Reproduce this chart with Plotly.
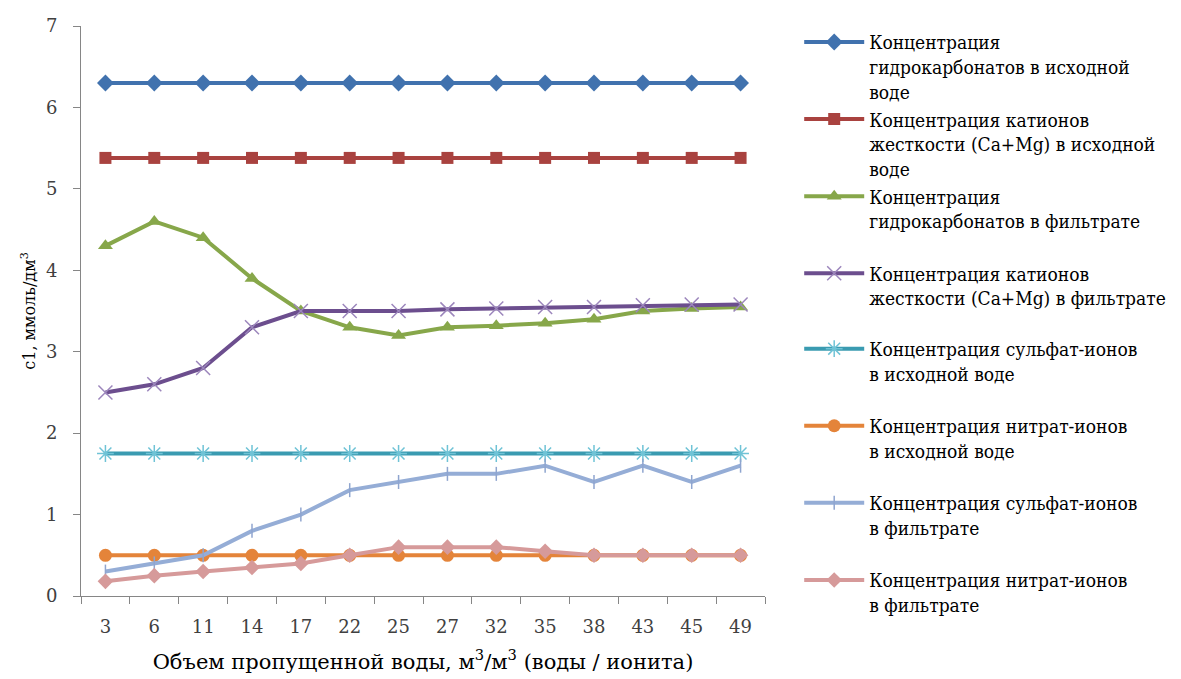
import plotly.graph_objects as go

# Volume of water passed, m3/m3 (category labels on the x axis)
volumes = ["3", "6", "11", "14", "17", "22", "25", "27", "32", "35", "38", "43", "45", "49"]

# Concentrations, mmol/dm3
hco3_source = [6.3] * 14
hardness_source = [5.38] * 14
hco3_filtrate = [4.3, 4.6, 4.4, 3.9, 3.5, 3.3, 3.2, 3.3, 3.32, 3.35, 3.4, 3.5, 3.53, 3.55]
hardness_filtrate = [2.5, 2.6, 2.8, 3.3, 3.5, 3.5, 3.5, 3.52, 3.53, 3.55, 3.55, 3.57, 3.58, 3.58]
so4_source = [1.75] * 14
no3_source = [0.5] * 14
so4_filtrate = [0.3, 0.4, 0.5, 0.8, 1.0, 1.3, 1.4, 1.5, 1.5, 1.6, 1.4, 1.6, 1.4, 1.6]
no3_filtrate = [0.18, 0.25, 0.3, 0.35, 0.4, 0.5, 0.6, 0.6, 0.6, 0.55, 0.5, 0.5, 0.5, 0.5]

SERIF = "DejaVu Serif, serif"
SERIF_NARROW = "DejaVu Serif Condensed, DejaVu Serif, serif"
PAD = "<br> "
series = [
    ("Концентрация<br>гидрокарбонатов в исходной<br>воде", hco3_source,
     "#4172AE", dict(symbol="diamond", size=13, color="#4172AE")),
    ("Концентрация катионов<br>жесткости (Ca+Mg) в исходной<br>воде", hardness_source,
     "#A9423F", dict(symbol="square", size=12, color="#A9423F")),
    ("Концентрация<br>гидрокарбонатов в фильтрате" + PAD, hco3_filtrate,
     "#87A74A", dict(symbol="triangle-up", size=13, color="#87A74A")),
    ("Концентрация катионов<br>жесткости (Ca+Mg) в фильтрате" + PAD, hardness_filtrate,
     "#6C4E8E", dict(symbol="x-thin", size=14, color="#9C86BC",
                     line=dict(width=1.5, color="#9C86BC"))),
    ("Концентрация сульфат-ионов<br>в исходной воде" + PAD, so4_source,
     "#3A9BB1", dict(symbol="asterisk", size=14, color="#6FC3D6",
                     line=dict(width=1.5, color="#6FC3D6"))),
    ("Концентрация нитрат-ионов<br>в исходной воде" + PAD, no3_source,
     "#E4843A", dict(symbol="circle", size=13, color="#E4843A")),
    ("Концентрация сульфат-ионов<br>в фильтрате" + PAD, so4_filtrate,
     "#95ADD6", dict(symbol="line-ns", size=10, color="#8FA5CF",
                     line=dict(width=1.5, color="#8FA5CF"))),
    ("Концентрация нитрат-ионов<br>в фильтрате" + PAD, no3_filtrate,
     "#D69A9A", dict(symbol="diamond", size=12, color="#D69A9A")),
]

fig = go.Figure()
for i, (name, values, color, marker) in enumerate(series):
    fig.add_trace(go.Scatter(
        x=volumes, y=values, name=name, mode="lines+markers",
        line=dict(color=color, width=4), marker=marker,
        legendgroup=f"g{i}", legend="legend" if i < 4 else "legend2",
    ))

axis_font = dict(family=SERIF, size=18, color="#404040")
legend_style = dict(
    xanchor="left", yanchor="top", valign="top", itemwidth=60,
    tracegroupgap=0, bgcolor="rgba(0,0,0,0)",
    font=dict(family=SERIF_NARROW, size=19, color="#000000"),
)

fig.update_layout(
    width=1181, height=679,
    margin=dict(l=81, r=416, t=26, b=83, autoexpand=False),
    paper_bgcolor="white", plot_bgcolor="white",
    font=dict(family=SERIF, color="#000000"),
    showlegend=True,
    legend=dict(x=1.05, y=1.005, **legend_style),
    legend2=dict(x=1.05, y=0.467, **legend_style),
    xaxis=dict(
        type="category", range=[-0.5, 13.5], tickson="boundaries",
        ticks="outside", ticklen=7, ticklabelstandoff=14,
        tickcolor="#868686", showline=True, linecolor="#868686", linewidth=1,
        showgrid=False, tickfont=axis_font,
        title=dict(text="Объем пропущенной воды, м<sup>3</sup>/м<sup>3</sup> (воды / ионита)",
                   font=dict(family=SERIF, size=21, color="#000000"),
                   standoff=18),
    ),
    yaxis=dict(
        range=[0, 7], dtick=1, ticks="outside", ticklen=7, ticklabelstandoff=12,
        tickcolor="#868686",
        showline=True, linecolor="#868686", linewidth=1, showgrid=False,
        zeroline=False, tickfont=axis_font,
        title=dict(text="c1, ммоль/дм<sup>3</sup>",
                   font=dict(family=SERIF, size=16, color="#000000"),
                   standoff=6),
    ),
)

fig.write_html("out.html")
